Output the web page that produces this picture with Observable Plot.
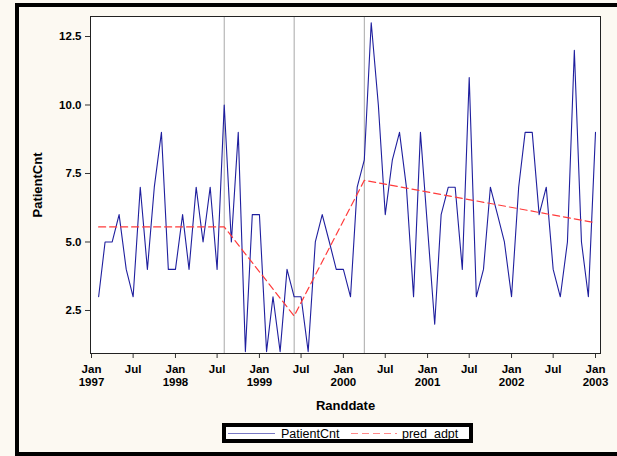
<!DOCTYPE html>
<html>
<head>
<meta charset="utf-8">
<script src="https://cdn.jsdelivr.net/npm/d3@7"></script>
<script src="https://cdn.jsdelivr.net/npm/@observablehq/plot@0.6"></script>
<style>
  html, body { margin: 0; padding: 0; background: #fcf9f2; overflow: hidden; }
  #fig { position: relative; width: 617px; height: 456px; overflow: hidden;
         font-family: "Liberation Sans", Arial, sans-serif; }
  #border { position: absolute; left: 15px; top: 3px; width: 700px; height: 445px;
            border: 4px solid #000; box-sizing: content-box; }
  #chart { position: absolute; left: 0; top: 0; }
  #legend { position: absolute; left: 222px; top: 423px; width: 243px; height: 12px;
            border: 4px solid #000; background: #fff; }
  #legend svg { display: block; overflow: visible; }
</style>
</head>
<body>
<div id="fig">
  <div id="border"></div>
  <div id="chart"></div>
  <div id="legend"></div>
</div>
<script>
// Monthly patient counts, Feb 1997 through Jan 2003
const startYear = 1997, startMonth = 1; // February (0-based)
const patientCnt = [
  3, 5, 5, 6, 4, 3, 7, 4, 7, 9, 4,            // 1997 Feb–Dec
  4, 6, 4, 7, 5, 7, 4, 10, 5, 9, 1, 6,        // 1998
  6, 1, 3, 1, 4, 3, 3, 1, 5, 6, 5, 4,         // 1999
  4, 3, 7, 8, 13, 10, 6, 8, 9, 7, 3, 9,       // 2000
  5.5, 2, 6, 7, 7, 4, 11, 3, 4, 7, 6, 5,      // 2001
  3, 7, 9, 9, 6, 7, 4, 3, 5, 12, 5, 3,        // 2002
  9                                           // 2003 Jan
];

// Segmented-regression fit (pred_adpt): knots and fitted values
const predMonths = ["1997-02", "1998-08", "1999-06", "2000-04", "2003-01"];
const predValues = [5.55, 5.55, 2.3, 7.25, 5.7];

// Change points marked with reference lines
const changePoints = ["1998-08", "1999-06", "2000-04"];

// Axis ticks
const yTicks = [2.5, 5, 7.5, 10, 12.5];
const xDomain = ["1997-01", "2003-01"];

const parseMonth = d3.utcParse("%Y-%m");
const countRows = patientCnt.map((v, i) => ({
  date: new Date(Date.UTC(startYear, startMonth + i, 1)),
  value: v
}));
const predRows = predMonths.map((m, i) => ({ date: parseMonth(m), value: predValues[i] }));
const refDates = changePoints.map(parseMonth);

const blue = "#1f1f9e";
const red = "#ff3b3b";
const font = '"Liberation Sans", Arial, sans-serif';

const chart = Plot.plot({
  width: 617,
  height: 456,
  marginLeft: 90,
  marginRight: 17,
  marginTop: 16,
  marginBottom: 103,
  style: { background: "transparent", fontFamily: font, color: "#000" },
  x: { type: "utc", domain: xDomain.map(parseMonth), insetLeft: 1, insetRight: 5 },
  y: { domain: [0.93, 13.23] },
  marks: [
    Plot.frame({ fill: "#fff" }),
    Plot.ruleX(refDates, { stroke: "#a8a8a8", strokeWidth: 1 }),
    Plot.line(countRows, { x: "date", y: "value", stroke: blue, strokeWidth: 1.1 }),
    Plot.line(predRows, { x: "date", y: "value", stroke: red, strokeWidth: 1.2, strokeDasharray: "7,4" }),
    Plot.axisX({
      ticks: d3.utcMonth.every(6),
      tickFormat: d => d.getUTCMonth() === 0 ? `Jan\n${d.getUTCFullYear()}` : "Jul",
      tickSize: 5, tickPadding: 5, lineHeight: 1.15,
      fontSize: 11.5, fontWeight: "bold", stroke: "#333",
      label: null
    }),
    Plot.axisX({
      ticks: [], label: "Randdate", labelAnchor: "center", labelOffset: 56, labelArrow: "none",
      fontSize: 13, fontWeight: "bold"
    }),
    Plot.axisY({
      ticks: yTicks, tickFormat: d3.format(".1f"),
      tickSize: 5, tickPadding: 4,
      fontSize: 11.5, fontWeight: "bold", stroke: "#333",
      label: null
    }),
    Plot.axisY({
      ticks: [], label: "PatientCnt", labelAnchor: "center", labelOffset: 58, labelArrow: "none",
      fontSize: 13, fontWeight: "bold"
    }),
    Plot.frame({ stroke: "#222" })
  ]
});
document.getElementById("chart").appendChild(chart);

// Legend
const legendItems = [
  { label: "PatientCnt", color: blue, dash: null, x0: 2, x1: 49, tx: 55 },
  { label: "pred_adpt", color: red, dash: "7,4", x0: 125, x1: 171, tx: 176 }
];
const lsvg = d3.select("#legend").append("svg").attr("width", 243).attr("height", 12);
for (const it of legendItems) {
  lsvg.append("line")
    .attr("x1", it.x0).attr("x2", it.x1).attr("y1", 6.5).attr("y2", 6.5)
    .attr("stroke", it.color).attr("stroke-opacity", 0.6).attr("stroke-width", 1.2)
    .attr("stroke-dasharray", it.dash);
  lsvg.append("text")
    .attr("x", it.tx).attr("y", 10.5)
    .attr("font-family", font).attr("font-size", 12.5)
    .text(it.label);
}
</script>
</body>
</html>
